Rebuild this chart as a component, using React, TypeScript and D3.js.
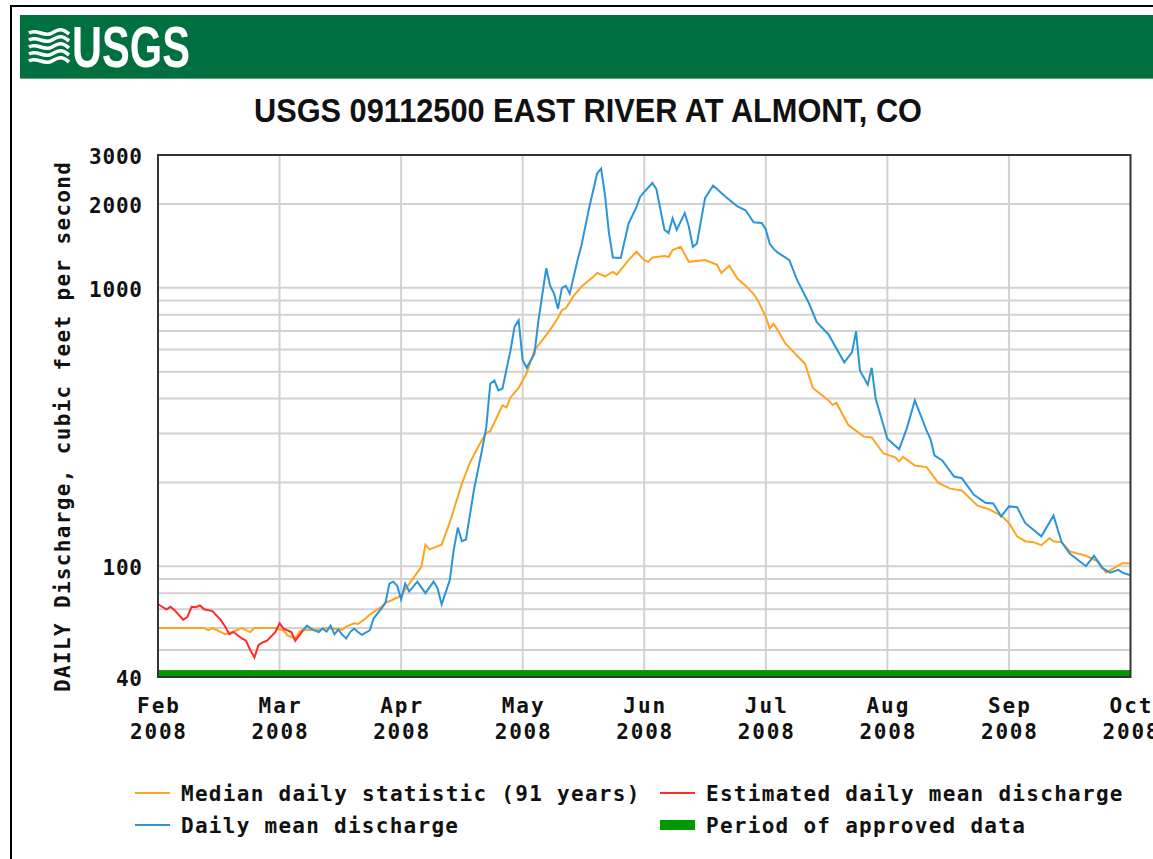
import React from 'react'
import * as d3 from 'd3'

const monthStarts = ['2008-02-01', '2008-03-01', '2008-04-01', '2008-05-01', '2008-06-01', '2008-07-01', '2008-08-01', '2008-09-01', '2008-10-01']
const monthLabels = ['Feb', 'Mar', 'Apr', 'May', 'Jun', 'Jul', 'Aug', 'Sep', 'Oct']
const yearLabel = '2008'
const yTickValues = [40, 100, 1000, 2000, 3000]
const yGridValues = [50, 60, 70, 80, 90, 100, 200, 300, 400, 500, 600, 700, 800, 900, 1000, 2000]

const titleText = 'USGS 09112500 EAST RIVER AT ALMONT, CO'
const yTitle = 'DAILY Discharge, cubic feet per second'

// median daily statistic (91 years)
const medianSeries: [string, number][] = [
  ['2008-02-01', 60], ['2008-02-12', 60], ['2008-02-13', 58.8], ['2008-02-14', 60], ['2008-02-16', 58],
  ['2008-02-17', 57], ['2008-02-19', 58.3], ['2008-02-21', 60], ['2008-02-23', 58], ['2008-02-24', 60],
  ['2008-02-29', 60], ['2008-03-02', 58.8], ['2008-03-03', 56.4], ['2008-03-05', 55], ['2008-03-06', 58],
  ['2008-03-07', 59.2], ['2008-03-10', 58.8], ['2008-03-13', 60], ['2008-03-17', 59.2], ['2008-03-18', 60.7],
  ['2008-03-20', 62.4], ['2008-03-21', 62], ['2008-03-23', 65], ['2008-03-24', 67], ['2008-03-27', 71.5],
  ['2008-03-28', 74], ['2008-03-29', 74.8], ['2008-03-31', 77.2], ['2008-04-01', 78.6], ['2008-04-04', 90.6],
  ['2008-04-06', 99.5], ['2008-04-07', 119.5], ['2008-04-08', 115], ['2008-04-11', 119.5], ['2008-04-13', 143.6],
  ['2008-04-16', 198], ['2008-04-18', 236], ['2008-04-21', 285], ['2008-04-22', 301], ['2008-04-23', 305.5],
  ['2008-04-26', 378], ['2008-04-27', 372], ['2008-04-28', 404], ['2008-04-30', 437], ['2008-05-02', 493],
  ['2008-05-04', 597], ['2008-05-06', 649], ['2008-05-08', 706], ['2008-05-10', 780], ['2008-05-11', 831],
  ['2008-05-12', 845], ['2008-05-14', 935], ['2008-05-16', 1011], ['2008-05-19', 1095], ['2008-05-20', 1130],
  ['2008-05-22', 1100], ['2008-05-24', 1140], ['2008-05-25', 1115], ['2008-05-28', 1258], ['2008-05-30', 1348],
  ['2008-06-01', 1258], ['2008-06-02', 1240], ['2008-06-03', 1285], ['2008-06-06', 1300], ['2008-06-07', 1290],
  ['2008-06-08', 1367], ['2008-06-10', 1404], ['2008-06-12', 1240], ['2008-06-16', 1258], ['2008-06-19', 1210],
  ['2008-06-20', 1130], ['2008-06-22', 1200], ['2008-06-24', 1080], ['2008-06-26', 1018], ['2008-06-28', 950],
  ['2008-06-29', 903], ['2008-07-01', 787], ['2008-07-02', 713], ['2008-07-03', 743], ['2008-07-04', 706],
  ['2008-07-06', 631], ['2008-07-09', 570], ['2008-07-11', 534], ['2008-07-13', 437], ['2008-07-17', 394],
  ['2008-07-18', 380], ['2008-07-19', 386], ['2008-07-22', 322], ['2008-07-23', 314], ['2008-07-26', 292],
  ['2008-07-28', 290], ['2008-07-31', 254], ['2008-08-03', 246], ['2008-08-04', 238], ['2008-08-05', 247],
  ['2008-08-08', 230], ['2008-08-11', 227], ['2008-08-14', 199], ['2008-08-17', 190], ['2008-08-20', 187],
  ['2008-08-24', 165], ['2008-08-27', 160], ['2008-08-30', 152], ['2008-09-01', 143], ['2008-09-03', 128],
  ['2008-09-05', 123], ['2008-09-07', 122], ['2008-09-09', 119], ['2008-09-11', 126], ['2008-09-12', 123],
  ['2008-09-14', 122], ['2008-09-16', 113], ['2008-09-20', 109], ['2008-09-23', 104], ['2008-09-25', 94.8],
  ['2008-09-27', 98.6], ['2008-09-29', 102.5], ['2008-10-01', 102.5],
]

// estimated daily mean discharge
const estimatedSeries: [string, number][] = [
  ['2008-02-01', 73], ['2008-02-03', 70], ['2008-02-04', 71.5], ['2008-02-05', 69.4], ['2008-02-07', 64.3],
  ['2008-02-08', 65.7], ['2008-02-09', 71.5], ['2008-02-10', 71.2], ['2008-02-11', 72.3], ['2008-02-12', 70],
  ['2008-02-14', 69], ['2008-02-16', 64], ['2008-02-17', 60.7], ['2008-02-18', 57], ['2008-02-19', 58],
  ['2008-02-21', 55], ['2008-02-22', 54], ['2008-02-23', 50], ['2008-02-24', 47], ['2008-02-25', 52.2],
  ['2008-02-26', 53.3], ['2008-02-27', 54], ['2008-02-29', 58], ['2008-03-01', 62.4], ['2008-03-02', 59.7],
  ['2008-03-04', 58], ['2008-03-05', 54], ['2008-03-07', 58.8],
]

// daily mean discharge
const dailySeries: [string, number][] = [
  ['2008-03-07', 58.8], ['2008-03-08', 61.2], ['2008-03-09', 59.7], ['2008-03-11', 58], ['2008-03-12', 59.7],
  ['2008-03-13', 58.3], ['2008-03-14', 61.2], ['2008-03-15', 57], ['2008-03-16', 59.2], ['2008-03-17', 56.7],
  ['2008-03-18', 55], ['2008-03-19', 58], ['2008-03-20', 59.7], ['2008-03-21', 58], ['2008-03-22', 56.7],
  ['2008-03-24', 58.8], ['2008-03-25', 65], ['2008-03-27', 70.6], ['2008-03-28', 73.8], ['2008-03-29', 86.6],
  ['2008-03-30', 88], ['2008-03-31', 85], ['2008-04-01', 76], ['2008-04-02', 86.6], ['2008-04-03', 81.1],
  ['2008-04-05', 88], ['2008-04-07', 80], ['2008-04-09', 88], ['2008-04-10', 83.3], ['2008-04-11', 72.9],
  ['2008-04-13', 89], ['2008-04-14', 115], ['2008-04-15', 137.6], ['2008-04-16', 123], ['2008-04-17', 124.7],
  ['2008-04-19', 189], ['2008-04-21', 263], ['2008-04-22', 314], ['2008-04-23', 452], ['2008-04-24', 465],
  ['2008-04-25', 428], ['2008-04-26', 434], ['2008-04-28', 597], ['2008-04-29', 725], ['2008-04-30', 765],
  ['2008-05-01', 549], ['2008-05-02', 516], ['2008-05-04', 580], ['2008-05-05', 760], ['2008-05-07', 1175],
  ['2008-05-08', 1017], ['2008-05-09', 953], ['2008-05-10', 840], ['2008-05-11', 1000], ['2008-05-12', 1017],
  ['2008-05-13', 953], ['2008-05-15', 1258], ['2008-05-16', 1425], ['2008-05-18', 1950], ['2008-05-20', 2580],
  ['2008-05-21', 2680], ['2008-05-22', 2150], ['2008-05-23', 1573], ['2008-05-24', 1285], ['2008-05-26', 1280],
  ['2008-05-28', 1700], ['2008-05-30', 1950], ['2008-05-31', 2130], ['2008-06-03', 2380], ['2008-06-04', 2260],
  ['2008-06-06', 1615], ['2008-06-07', 1573], ['2008-06-08', 1778], ['2008-06-09', 1615], ['2008-06-11', 1855],
  ['2008-06-12', 1660], ['2008-06-13', 1404], ['2008-06-14', 1443], ['2008-06-16', 2100], ['2008-06-18', 2330],
  ['2008-06-21', 2130], ['2008-06-24', 1960], ['2008-06-26', 1900], ['2008-06-28', 1720], ['2008-06-30', 1710],
  ['2008-07-01', 1620], ['2008-07-02', 1440], ['2008-07-03', 1380], ['2008-07-04', 1340], ['2008-07-07', 1258],
  ['2008-07-09', 1066], ['2008-07-12', 880], ['2008-07-14', 753], ['2008-07-17', 680], ['2008-07-21', 540],
  ['2008-07-23', 588], ['2008-07-24', 697], ['2008-07-25', 505], ['2008-07-27', 449], ['2008-07-28', 516],
  ['2008-07-29', 400], ['2008-08-01', 287], ['2008-08-04', 263], ['2008-08-06', 314], ['2008-08-08', 394],
  ['2008-08-10', 334], ['2008-08-11', 307], ['2008-08-12', 286], ['2008-08-13', 250], ['2008-08-15', 240],
  ['2008-08-18', 210], ['2008-08-20', 207], ['2008-08-23', 181], ['2008-08-26', 169], ['2008-08-28', 168],
  ['2008-08-30', 151], ['2008-09-01', 164], ['2008-09-03', 163], ['2008-09-05', 143], ['2008-09-09', 128],
  ['2008-09-12', 152], ['2008-09-14', 122], ['2008-09-16', 111], ['2008-09-20', 100], ['2008-09-22', 109],
  ['2008-09-24', 98.6], ['2008-09-26', 94.8], ['2008-09-28', 97], ['2008-09-29', 94.8], ['2008-10-01', 92.8],
]

const legendRows = [
  { label: 'Median daily statistic (91 years)', color: '#ffa320', kind: 'line', col: 0, row: 0 },
  { label: 'Estimated daily mean discharge', color: '#ff2a2a', kind: 'line', col: 1, row: 0 },
  { label: 'Daily mean discharge', color: '#2a95d8', kind: 'line', col: 0, row: 1 },
  { label: 'Period of approved data', color: '#009a00', kind: 'bar', col: 1, row: 1 },
]

const W = 1153
const H = 859
const left = 158
const right = 1130.5
const top = 155
const bottom = 677
const mono = "'DejaVu Sans Mono', 'Liberation Mono', monospace"
const narrow = "'Liberation Sans Narrow', 'Liberation Sans', Arial, sans-serif"
const fs = 21

const parse = d3.timeParse('%Y-%m-%d')

export default function App() {
  const monthPos = d3.scaleLinear().domain([0, monthStarts.length - 1]).range([left, right])
  // months are drawn at even spacing, like the original graph
  const x = d3.scaleTime()
    .domain(monthStarts.map(d => parse(d) as Date))
    .range(monthStarts.map((_, i) => monthPos(i)))
  const y = d3.scaleLog().domain([40, 3000]).range([bottom, top])

  const line = d3.line<[string, number]>()
    .x(d => x(parse(d[0]) as Date))
    .y(d => y(d[1]))

  const wavePaths = [0, 1, 2, 3, 4].map(i => {
    const y0 = 33 + i * 7
    return `M29,${y0} C37,${y0 - 5} 44,${y0 + 5} 52,${y0} S63,${y0 - 4} 69,${y0 + 1}`
  })

  return (
    <svg width={W} height={H} style={{ position: 'absolute', left: 0, top: 0, background: '#fff' }}>
      <rect x={0} y={0} width={W} height={H} fill="#fff" />
      {/* outer frame */}
      <path d={`M11,${H} V6 H${W}`} fill="none" stroke="#000" strokeWidth={2} />

      {/* banner */}
      <rect x={20} y={15} width={W - 20} height={64} fill="#00703f" />
      <line x1={20} x2={W} y1={78.5} y2={78.5} stroke="#5fa47f" strokeWidth={1} />
      <g fill="none" stroke="#fff" strokeWidth={3.6} strokeLinecap="butt">
        {wavePaths.map((p, i) => <path key={i} d={p} />)}
      </g>
      <text x={72} y={67} fill="#fff" fontFamily={narrow} fontWeight="bold" fontSize={58}
        textLength={118} lengthAdjust="spacingAndGlyphs">USGS</text>

      {/* title */}
      <text x={588} y={122} textAnchor="middle" fontFamily={narrow} fontWeight="bold" fontSize={34}
        textLength={668} lengthAdjust="spacingAndGlyphs" fill="#111">{titleText}</text>

      {/* grid */}
      <g stroke="#d2d2d2" strokeWidth={2}>
        {yGridValues.map(v => (
          <line key={v} x1={left} x2={right} y1={y(v)} y2={y(v)} />
        ))}
        {monthStarts.slice(1, -1).map(d => (
          <line key={d} x1={x(parse(d) as Date)} x2={x(parse(d) as Date)} y1={top} y2={bottom} />
        ))}
      </g>

      {/* approved data period */}
      <rect x={left} y={670.5} width={right - left} height={6.5} fill="#009a00" />
      <line x1={left} x2={right} y1={670.5} y2={670.5} stroke="#2f8a2f" strokeWidth={1} />

      {/* series */}
      <path d={line(medianSeries) || ''} fill="none" stroke="#ffa320" strokeWidth={2} />
      <path d={line(estimatedSeries) || ''} fill="none" stroke="#ff2a2a" strokeWidth={2} />
      <path d={line(dailySeries) || ''} fill="none" stroke="#2a95d8" strokeWidth={2} />

      {/* plot frame */}
      <rect x={left} y={top} width={right - left} height={bottom - top} fill="none" stroke="#333" strokeWidth={2} />

      {/* y ticks */}
      <g fontFamily={mono} fontWeight="bold" fontSize={fs} fill="#111" textAnchor="end">
        {yTickValues.map(v => (
          <text key={v} x={142} y={y(v) + 9} textLength={String(v).length * 13.5 - 1}>{v}</text>
        ))}
      </g>
      <text transform="translate(70,427) rotate(-90)" textAnchor="middle" fontFamily={mono} fontWeight="bold"
        fontSize={fs} fill="#111" textLength={530}>{yTitle}</text>

      {/* x ticks */}
      <g fontFamily={mono} fontWeight="bold" fontSize={fs} fill="#111" textAnchor="middle">
        {monthStarts.map((d, i) => (
          <g key={d}>
            <text x={x(parse(d) as Date)} y={713} textLength={42}>{monthLabels[i]}</text>
            <text x={x(parse(d) as Date)} y={739} textLength={56}>{yearLabel}</text>
          </g>
        ))}
      </g>

      {/* legend */}
      <g fontFamily={mono} fontSize={fs} fontWeight="bold" fill="#111">
        {legendRows.map(r => {
          const lx = r.col === 0 ? 135 : 660
          const ly = 793 + r.row * 32
          return (
            <g key={r.label}>
              {r.kind === 'line'
                ? <line x1={lx} x2={lx + 35} y1={ly} y2={ly} stroke={r.color} strokeWidth={2} />
                : <rect x={lx} y={ly - 5} width={35} height={10} fill={r.color} />}
              <text x={lx + 46} y={ly + 8} textLength={r.label.length * 13.95 - 2}>{r.label}</text>
            </g>
          )
        })}
      </g>
    </svg>
  )
}
